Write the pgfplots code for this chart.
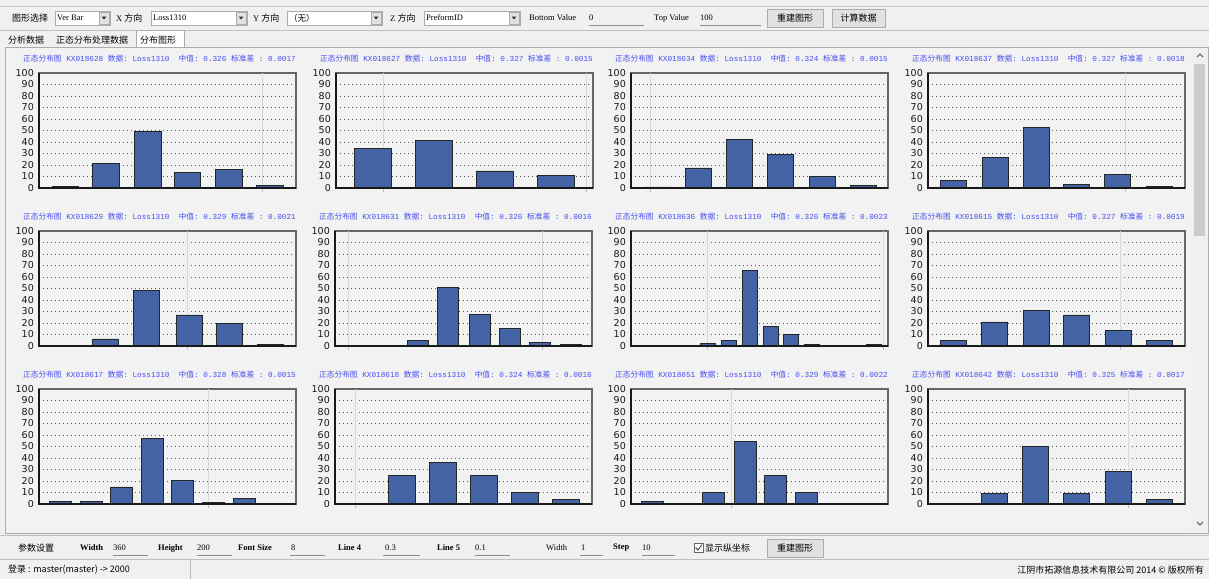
\documentclass[border=0pt]{standalone}
\usepackage{pgfplots}
\pgfplotsset{compat=1.18}
\usepackage{fontspec}
\setmainfont{Liberation Sans}
\newfontfamily\cjk{Noto Sans CJK SC}
\newfontfamily\mono{Liberation Mono}
\newfontfamily\dejavu{DejaVu Sans}
\newfontfamily\serifui{Liberation Serif}
\definecolor{barblue}{RGB}{66,99,164}
\definecolor{titleblue}{RGB}{70,78,240}
\definecolor{uibg}{RGB}{240,240,240}
\definecolor{panelbg}{RGB}{242,242,242}
\definecolor{uiline}{RGB}{172,172,172}
\definecolor{btn}{RGB}{225,225,225}

\newcommand\titlefont{\mono\fontsize{7.7}{8}\selectfont}
\newcommand\ptitle[3]{{\cjk 正态分布图}\ KX0#1\ {\cjk 数据}:\ Loss1310\ \ {\cjk 中值}:\ #2\ {\cjk 标准差}\ :\ #3}
\newcommand\uifont{\serifui\fontsize{8.5}{9}\selectfont}
\newcommand\uibold{\serifui\bfseries\fontsize{8.5}{9}\selectfont}
\newcommand\cjkui{\cjk\fontsize{9}{10}\selectfont}

\pgfplotsset{
 panel/.style={
  scale only axis, width=257pt, height=115pt, anchor=south west,
  xmin=0, xmax=257, ymin=0, ymax=100,
  xtick=\empty, ytick={0,10,...,100},
  tick pos=left,
  ymajorgrids,
  y grid style={dash pattern=on 1.4pt off 2.6pt, line width=1pt, color=black!65},
  ytick style={draw=none},
  yticklabel style={font=\dejavu\fontsize{9.5}{9.5}\selectfont, text=black!90, inner sep=0pt},
  yticklabel shift=5pt,
  /pgf/number format/assume math mode=true,
  extra x tick labels={},
  extra x tick style={grid=major, major grid style={black!15, line width=0.8pt, solid},
    tick style={draw=black!25, line width=0.8pt}, major tick length=4pt, tick align=outside},
  axis line style={draw=black!60, line width=1.2pt},
  axis background/.style={fill=panelbg},
  title style={at={(1,1)}, anchor=south east, inner sep=0pt, yshift=5pt, font=\titlefont, text=titleblue},
  clip=false,
 },
 bars/.style={ybar, fill=barblue, draw=black!85, line width=0.9pt},
}
\newcommand\panel[8]{%
\begin{axis}[panel, at={(#1pt,-#2pt)}, title={\ptitle{#3}{#4}{#5}}, extra x ticks={#6}]
\addplot[bars, bar width=#8] coordinates {#7};
\draw[line width=2pt, black!90] (rel axis cs:0,1) |- (rel axis cs:1,0);
\end{axis}}

\newcommand\combo[3]{%
 \draw[uiline, fill=white] (#1pt,-11pt) rectangle (#2pt,-25pt);
 \draw[uiline, fill=btn] (#2pt-11pt,-12pt) rectangle (#2pt-1pt,-24pt);
 \fill[black!80] (#2pt-8.5pt,-16.5pt) -- (#2pt-3.5pt,-16.5pt) -- (#2pt-6pt,-19.5pt) -- cycle;
 \node[anchor=west, inner sep=0pt, font=\uifont] at (#1pt+2pt,-18pt) {#3};}
\newcommand\button[4]{%
 \draw[uiline, fill=btn] (#1pt,-#3pt) rectangle (#2pt,-#3pt-18pt);
 \node[inner sep=0pt, font=\cjkui] at (#1pt/2+#2pt/2,-#3pt-9pt) {#4};}
\newcommand\field[3]{%
 \node[anchor=west, inner sep=0pt, font=\uifont] at (#1pt,-#3pt) {#2};}
\newcommand\uline[3]{\draw[black!45, line width=0.6pt] (#1pt,-#3pt) -- (#2pt,-#3pt);}

\begin{document}
\begin{tikzpicture}
\useasboundingbox (0,0) rectangle (1209pt,-579pt);
\fill[uibg] (0,0) rectangle (1209pt,-579pt);
\draw[black!20] (0,-6pt) -- (1209pt,-6pt);
% toolbar
\node[anchor=west, inner sep=0pt, font=\cjkui] at (12pt,-18pt) {图形选择};
\combo{55}{110}{Ver Bar}
\node[anchor=west, inner sep=0pt] at (116pt,-18pt) {\uifont X {\cjkui 方向}};
\combo{151}{247}{Loss1310}
\node[anchor=west, inner sep=0pt] at (253pt,-18pt) {\uifont Y {\cjkui 方向}};
\combo{287}{382}{{\cjk （无）}}
\node[anchor=west, inner sep=0pt] at (390pt,-18pt) {\uifont Z {\cjkui 方向}};
\combo{424}{520}{PreformID}
\field{529}{Bottom Value}{18}
\field{589}{0}{18}
\uline{589}{644}{25}
\field{654}{Top Value}{18}
\field{700}{100}{18}
\uline{700}{761}{25}
\button{767}{823}{9}{重建图形}
\button{832}{885}{9}{计算数据}
% tabs
\draw[black!25] (0,-30pt) -- (1209pt,-30pt);
\fill[white] (136pt,-30pt) rectangle (184pt,-47pt);
\draw[uiline] (136pt,-47pt) |- (184pt,-30pt) -- (184pt,-47pt);
\node[anchor=west, inner sep=0pt, font=\cjkui] at (8pt,-40pt) {分析数据};
\node[anchor=west, inner sep=0pt, font=\cjkui] at (56pt,-40pt) {正态分布处理数据};
\node[anchor=west, inner sep=0pt, font=\cjkui] at (140pt,-40pt) {分布图形};
% content area
\fill[panelbg] (5pt,-47pt) rectangle (1208pt,-533pt);
\draw[uiline] (5pt,-47pt) rectangle (1208pt,-533pt);
% scrollbar
\fill[uibg] (1191pt,-48pt) rectangle (1207.5pt,-532pt);
\fill[black!20] (1194pt,-64pt) rectangle (1205pt,-236pt);
\draw[black!70, line width=0.8pt] (1197pt,-57pt) -- (1200pt,-54pt) -- (1203pt,-57pt);
\draw[black!70, line width=0.8pt] (1197pt,-522pt) -- (1200pt,-525pt) -- (1203pt,-522pt);

% panels row 1
\panel{39}{188}{18628}{0.326}{0.0017}{223}{(26.5,1.5) (67,21) (109,49) (148.5,13.4) (190,16.3) (231,2.6)}{26.5}
\panel{336}{188}{18627}{0.327}{0.0015}{47,250}{(36.5,34) (97.5,41.4) (158.5,14.8) (219.5,11)}{37}
\panel{631}{188}{18634}{0.324}{0.0015}{19}{(26.5,0.9) (67.7,17.4) (108.7,42) (149.7,29.3) (191,10.4) (232,2.3)}{26}
\panel{928}{188}{18637}{0.327}{0.0018}{197}{(25.3,6.7) (67.3,26.4) (108.3,53) (148.8,2.9) (189.7,11.9) (231.3,1.2)}{26}
% row 2
\panel{39}{346}{18629}{0.329}{0.0021}{148}{(26.3,0.6) (66.8,6.1) (107.3,48) (150,27) (190.7,20) (231.3,1.7)}{26}
\panel{335}{346}{18631}{0.326}{0.0016}{13,207}{(21.7,0.3) (52,0.5) (83,5.2) (113.3,51.3) (145,27.2) (175,15) (205.3,3.2) (236,1.4)}{21}
\panel{631}{346}{18636}{0.326}{0.0023}{76,252}{(14,0.3) (34.7,0.2) (56.3,0.2) (77.3,2.3) (98.3,4.6) (119,65.5) (139.7,16.8) (160.3,10.4) (181.3,1.7) (202,0) (223,0) (243.3,1.7)}{15}
\panel{928}{346}{18615}{0.327}{0.0019}{192}{(25.3,5.2) (66.3,20.9) (108.7,31.3) (148.8,27) (190.7,13.3) (231.7,4.6)}{26}
% row 3
\panel{39}{504}{18617}{0.328}{0.0015}{169}{(21.2,2.3) (52,2.3) (82.8,14.8) (113.7,57.4) (143.8,20.3) (174.5,1.7) (205.2,4.6) (235.7,0.6)}{22}
\panel{335}{504}{18618}{0.324}{0.0016}{20}{(26,0) (67,25) (108,36) (149,25) (190,10) (231,4)}{27}
\panel{631}{504}{18651}{0.329}{0.0022}{100}{(21,2) (52,0) (82,10) (114,54) (144,25) (175,10) (206,0) (237,0)}{22}
\panel{928}{504}{18642}{0.325}{0.0017}{200}{(25,0) (66,9) (107,50) (148,9) (190,28) (231,4)}{26}

% bottom bar
\draw[black!25] (0,-535pt) -- (1209pt,-535pt);
\node[anchor=west, inner sep=0pt, font=\cjkui] at (18pt,-548pt) {参数设置};
\node[anchor=west, inner sep=0pt, font=\uibold] at (80pt,-548pt) {Width};
\field{113}{360}{548}\uline{113}{148}{555}
\node[anchor=west, inner sep=0pt, font=\uibold] at (158pt,-548pt) {Height};
\field{197}{200}{548}\uline{197}{232}{555}
\node[anchor=west, inner sep=0pt, font=\uibold] at (238pt,-548pt) {Font Size};
\field{291}{8}{548}\uline{290}{325}{555}
\node[anchor=west, inner sep=0pt, font=\uibold] at (338pt,-548pt) {Line 4};
\field{385}{0.3}{548}\uline{383}{420}{555}
\node[anchor=west, inner sep=0pt, font=\uibold] at (437pt,-548pt) {Line 5};
\field{475}{0.1}{548}\uline{475}{510}{555}
\field{546}{Width}{548}
\field{581}{1}{548}\uline{580}{603}{555}
\node[anchor=west, inner sep=0pt, font=\uibold] at (613pt,-548pt) {Step};
\field{642}{10}{548}\uline{642}{675}{555}
\draw[black!60, fill=white] (694pt,-543pt) rectangle (703pt,-552pt);
\draw[black!80, line width=0.8pt] (695.5pt,-547.5pt) -- (698pt,-550pt) -- (702pt,-544.5pt);
\node[anchor=west, inner sep=0pt, font=\cjkui] at (705pt,-548pt) {显示纵坐标};
\button{767}{823}{539}{重建图形}
% status bar
\draw[black!25] (0,-559pt) -- (1209pt,-559pt);
\draw[black!25] (190pt,-560pt) -- (190pt,-579pt);
\node[anchor=west, inner sep=0pt, font=\cjkui] at (8pt,-570pt) {登录 : master(master) -> 2000};
\node[anchor=east, inner sep=0pt, font=\cjkui] at (1204pt,-570pt) {江阴市拓源信息技术有限公司 2014 © 版权所有};
\end{tikzpicture}
\end{document}
